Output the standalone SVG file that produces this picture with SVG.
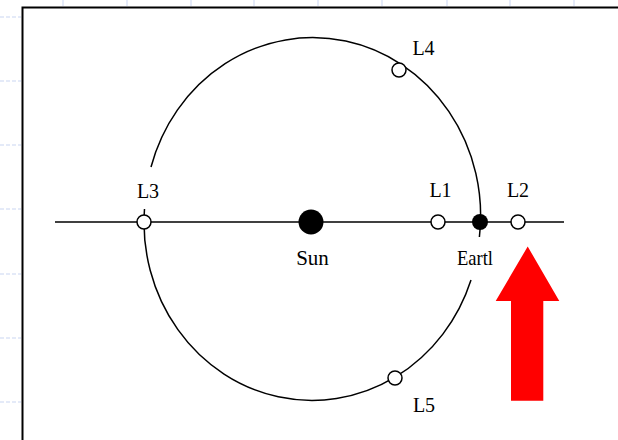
<svg xmlns="http://www.w3.org/2000/svg" width="618" height="440" viewBox="0 0 618 440">
  <style>
    .tick { stroke: #c9d5f2; stroke-width: 1; }
    .dash { stroke: #c9d5f2; stroke-width: 1.2; stroke-dasharray: 4 2; }
    .frame { fill: none; stroke: #000; stroke-width: 2; }
    .line { fill: none; stroke: #000; stroke-width: 1.5; }
    .lp { fill: #fff; stroke: #000; stroke-width: 1.5; }
    .body { fill: #000; }
    .lbl { font-family: "Liberation Serif", "Times New Roman", serif; font-size: 20px; fill: #000; }
    .big { font-size: 21px; }
  </style>
  <rect width="618" height="440" fill="#fff"/>
  <g id="ruler">
    <line class="tick" x1="63" y1="0" x2="63" y2="6"/>
    <line class="tick" x1="127" y1="0" x2="127" y2="6"/>
    <line class="tick" x1="191" y1="0" x2="191" y2="6"/>
    <line class="tick" x1="254" y1="0" x2="254" y2="6"/>
    <line class="tick" x1="318" y1="0" x2="318" y2="6"/>
    <line class="tick" x1="382" y1="0" x2="382" y2="6"/>
    <line class="tick" x1="447" y1="0" x2="447" y2="6"/>
    <line class="tick" x1="510" y1="0" x2="510" y2="6"/>
    <line class="tick" x1="574" y1="0" x2="574" y2="6"/>
    <line class="dash" x1="0" y1="17" x2="21" y2="17"/>
    <line class="dash" x1="0" y1="81" x2="21" y2="81"/>
    <line class="dash" x1="0" y1="145" x2="21" y2="145"/>
    <line class="dash" x1="0" y1="209" x2="21" y2="209"/>
    <line class="dash" x1="0" y1="274" x2="21" y2="274"/>
    <line class="dash" x1="0" y1="338" x2="21" y2="338"/>
    <line class="dash" x1="0" y1="402" x2="21" y2="402"/>
  </g>
  <path class="frame" d="M22.5,441 V7.5 H619"/>
  <g id="connectors">
    <line class="line" x1="55" y1="222" x2="564" y2="222"/>
    <path class="line" d="M151,167 A168,178 0 0 1 479.4,237"/>
    <path class="line" d="M471,280 A168,178 0 0 1 144.5,209"/>
  </g>
  <g id="sun">
    <circle class="body" cx="311" cy="222" r="12.5"/>
    <text class="lbl big" x="312.5" y="265" text-anchor="middle">Sun</text>
  </g>
  <g id="earth">
    <circle class="body" cx="480" cy="222" r="8"/>
    <text class="lbl big" x="457" y="265" textLength="36" lengthAdjust="spacingAndGlyphs">Eartl</text>
  </g>
  <g id="L1">
    <circle class="lp" cx="438" cy="222" r="7"/>
    <text class="lbl" x="440.5" y="197" text-anchor="middle">L1</text>
  </g>
  <g id="L2">
    <circle class="lp" cx="518" cy="222" r="7"/>
    <text class="lbl" x="518" y="197" text-anchor="middle">L2</text>
  </g>
  <g id="L3">
    <circle class="lp" cx="144" cy="222" r="7"/>
    <text class="lbl" x="148" y="198" text-anchor="middle">L3</text>
  </g>
  <g id="L4">
    <circle class="lp" cx="399" cy="70" r="7"/>
    <text class="lbl" x="423.5" y="55" text-anchor="middle">L4</text>
  </g>
  <g id="L5">
    <circle class="lp" cx="395" cy="378" r="7"/>
    <text class="lbl" x="424" y="412" text-anchor="middle">L5</text>
  </g>
  <g id="arrow">
    <polygon fill="#f00" points="527.7,246.5 559.3,301 543.3,301 543.3,400.7 511,400.7 511,301 495.7,301"/>
  </g>
</svg>
